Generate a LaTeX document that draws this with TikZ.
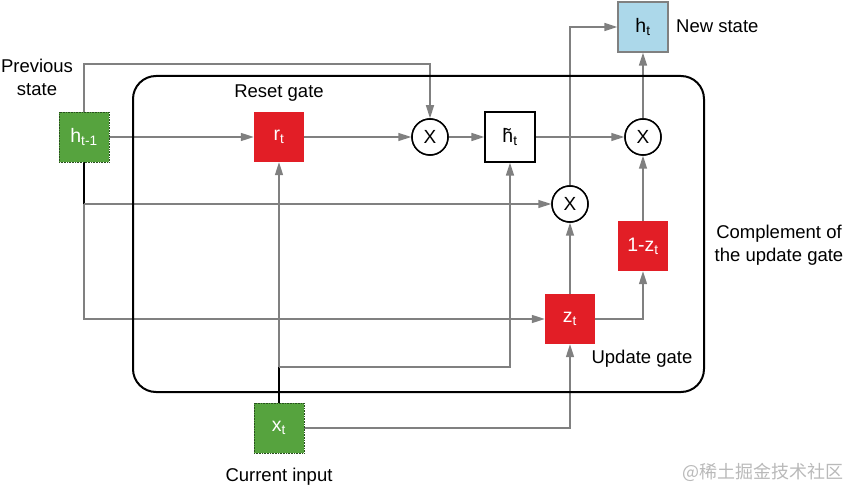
\documentclass[tikz,border=0pt]{standalone}
\usepackage{fontspec}
\setmainfont{Liberation Sans}
\newfontfamily\cjk{Noto Sans CJK SC}
\usetikzlibrary{arrows.meta}
\definecolor{linegray}{RGB}{128,128,128}
\definecolor{gruen}{RGB}{86,163,62}
\definecolor{gruenrand}{RGB}{40,80,30}
\definecolor{rot}{RGB}{226,30,38}
\definecolor{hellblau}{RGB}{172,216,234}
\definecolor{wmgray}{RGB}{185,185,185}
\begin{document}
\begin{tikzpicture}[x=1pt,y=-1pt,
  conn/.style={draw=linegray, line width=1.5pt},
  arr/.style={conn, -{Triangle[length=13pt,width=8pt]}},
  lbl/.style={font=\fontsize{18.5}{23}\selectfont, inner sep=0pt, align=center},
  boxbase/.style={minimum size=50pt, inner sep=0pt, font=\fontsize{19.5}{22}\selectfont},
  gbox/.style={boxbase, fill=gruen, text=white, draw=gruenrand, line width=0.6pt, densely dotted},
  rbox/.style={boxbase, fill=rot, text=white},
  wbox/.style={boxbase, fill=white, draw=black, line width=1.3pt},
  bbox/.style={boxbase, fill=hellblau, draw=linegray, line width=1.3pt},
  mult/.style={circle, draw=black, line width=1.5pt, fill=white, minimum size=36pt, inner sep=0pt, font=\fontsize{19}{22}\selectfont}
]
\useasboundingbox (0,0) rectangle (847,489);

% nodes (placed first so connectors can refer to them)
\node[gbox] (h) at (84,137) {h\textsubscript{t-1}};
\node[rbox] (r) at (279,137) {r\textsubscript{t}};
\node[mult] (m1) at (430,137) {X};
\node[wbox] (ht) at (510,137) {\~{h}\textsubscript{t}};
\node[mult] (m2) at (643,137) {X};
\node[mult] (m3) at (570,204) {X};
\node[bbox] (hn) at (643,27) {h\textsubscript{t}};
\node[rbox] (c) at (643,246) {1-z\textsubscript{t}};
\node[rbox] (z) at (570,319) {z\textsubscript{t}};
\node[gbox] (x) at (279,428) {x\textsubscript{t}};

\coordinate (topc) at (84,64);
\coordinate (j1) at (84,204);
\coordinate (j2) at (84,319);
\coordinate (j3) at (279,367);

% connectors
\draw[arr] (h) -- (r);
\draw[arr] (r) -- (m1);
\draw[arr] (m1) -- (ht);
\draw[arr] (ht) -- (m2);
\draw[arr] (m2) -- (hn);
\draw[arr] (c) -- (m2);
\draw[arr] (z) -- (m3);
\draw[arr] (z.east) -| (c.south);
\draw[arr] (h.north) -- (topc) -| (m1.north);
\draw[line width=1.5pt, black] (h.south) -- (j1);
\draw[arr] (j1) -- (m3.west);
\draw[arr] (j1) -- (j2) -- (z.west);
\draw[arr] (m3.north) |- (hn.west);
\draw[line width=1.5pt, black] (x.north) -- (j3);
\draw[arr] (j3) -- (r.south);
\draw[arr] (j3) -| (ht.south);
\draw[arr] (x.east) -| (z.south);

% outer cell
\draw[line width=2pt, rounded corners=23pt] (133,76) rectangle (704,392);

% redraw nodes on top
\node[gbox] at (h) {h\textsubscript{t-1}};
\node[rbox] at (r) {r\textsubscript{t}};
\node[mult] at (m1) {X};
\node[wbox] at (ht) {\~{h}\textsubscript{t}};
\node[mult] at (m2) {X};
\node[mult] at (m3) {X};
\node[bbox] at (hn) {h\textsubscript{t}};
\node[rbox] at (c) {1-z\textsubscript{t}};
\node[rbox] at (z) {z\textsubscript{t}};
\node[gbox] at (x) {x\textsubscript{t}};

% labels
\node[lbl] (lprev) at (37,77) {Previous\\state};
\node[lbl] (lreset) at (279,93) {Reset gate};
\node[lbl, anchor=west] (lnew) at (676,26) {New state};
\node[lbl] (lupd) at (642,359) {Update gate};
\node[lbl] (lcomp) at (779,245) {Complement of\\the update gate};
\node[lbl] (lcur) at (279,477) {Current input};
\node[font=\cjk\fontsize{18}{21}\selectfont, text=wmgray, inner sep=0pt] (wm) at (763,472) {@稀土掘金技术社区};
\end{tikzpicture}
\end{document}
